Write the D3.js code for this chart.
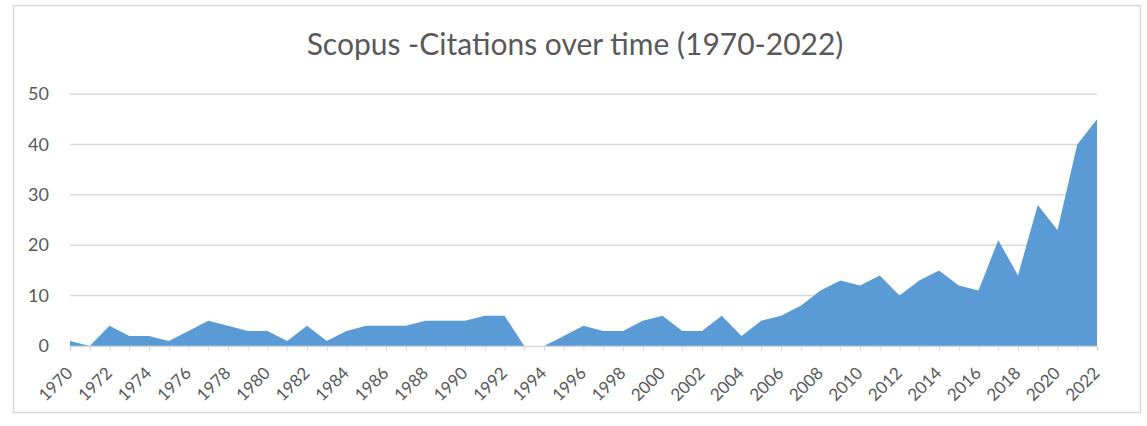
<!DOCTYPE html>
<html><head><meta charset="utf-8">
<script src="https://cdn.jsdelivr.net/npm/d3@7"></script>
<style>body{margin:0;background:#fff}svg{display:block}</style>
</head><body>
<script>
const years = d3.range(1970, 2023);
const citations = [1,0,4,2,2,1,3,5,4,3,3,1,4,1,3,4,4,4,5,5,5,6,6,0,0,2,4,3,3,5,6,3,3,6,2,5,6,8,11,13,12,14,10,13,15,12,11,21,14,28,23,40,45];
const yTicks = [0,10,20,30,40,50];
const xLabelYears = years.filter(y => (y - 1970) % 2 === 0);
const title = "Scopus -Citations over time (1970-2022)";

const W = 1147, H = 426;
const svg = d3.select("body").append("svg").attr("width", W).attr("height", H);
const font = "Lato, 'Open Sans', sans-serif";
svg.append("rect").attr("x",13.5).attr("y",5.5).attr("width",1127).attr("height",407)
  .attr("fill","#fff").attr("stroke","#d9d9d9").attr("stroke-width",1.5);

const x = d3.scaleLinear().domain([1970,2022]).range([70,1097]);
const y = d3.scaleLinear().domain([0,50]).range([346,94]);

const g = svg.append("g");
// gridlines
g.selectAll("line.grid").data(yTicks.filter(d=>d>0)).join("line")
  .attr("x1",70).attr("x2",1097).attr("y1",d=>y(d)).attr("y2",d=>y(d))
  .attr("stroke","#d9d9d9").attr("stroke-width",1.5);

const data = years.map((yr,i)=>({yr, v: citations[i]}));
g.append("path").datum(data)
  .attr("d", d3.area().x(d=>x(d.yr)).y0(y(0)).y1(d=>y(d.v)))
  .attr("fill","#5b9bd5");

// y axis labels
const yAxis = d3.axisLeft(y).tickValues(yTicks).tickSize(0).tickPadding(21);
const ya = svg.append("g").attr("transform","translate(70,0)").call(yAxis);
ya.select(".domain").remove();
ya.selectAll("text").attr("font-family",font).attr("font-size",18).attr("fill","#595959");

// x axis
const xAxis = d3.axisBottom(x).tickValues(years).tickSize(5).tickFormat(d => xLabelYears.includes(d) ? d : "");
const xa = svg.append("g").attr("transform",`translate(0,${y(0)})`).call(xAxis);
xa.select(".domain").attr("stroke","#d9d9d9").attr("stroke-width",1.5);
xa.selectAll(".tick line").attr("stroke","#d9d9d9");
xa.selectAll("text").attr("font-family",font).attr("font-size",17).attr("fill","#595959")
  .attr("text-anchor","end").attr("dy","0.35em")
  .attr("transform","translate(-1,24) rotate(-45)").attr("y",0).attr("x",0);

svg.append("text").attr("x",575).attr("y",55).attr("text-anchor","middle")
  .attr("font-family",font).attr("font-size",30).attr("fill","#595959").text(title);
</script>
</body></html>
